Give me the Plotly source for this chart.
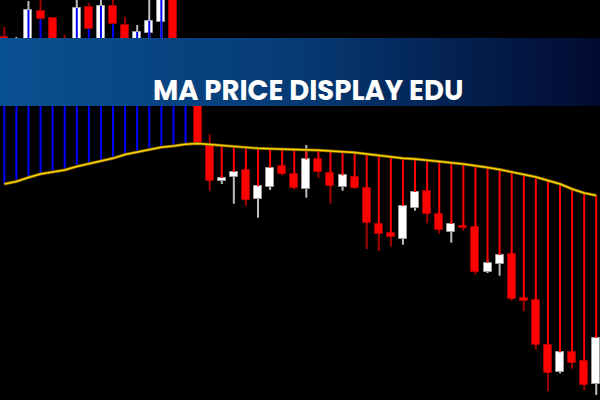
import plotly.graph_objects as go

# 50 bars, price in chart points (higher = up)
BAR_INDEX = list(range(50))

OPEN = [
    363, 310, 330, 389, 382, 355, 340, 393, 350, 394.3,
    375, 330, 367, 378.3, 405, 305, 330, 255.7, 219, 223.3,
    230, 201.3, 213.3, 234, 225.7, 211, 241, 227, 213, 223,
    212, 176.3, 167, 161.3, 192.3, 209, 185.7, 168.3, 174.3, 173,
    128.3, 136, 146, 102, 100, 55, 28, 47.7, 38.7, 16,
]
HIGH = [
    373, 363, 399, 403, 383, 365, 403, 397, 402, 403,
    383, 375, 403, 408, 408, 355, 340, 265.7, 224, 230,
    232, 216, 234, 236, 228, 255, 243, 229, 227, 225,
    214, 179, 169, 196, 210, 211, 188, 178, 177, 175,
    140, 147, 148, 104, 102, 57, 50, 50, 41, 64,
]
LOW = [
    305, 300, 315, 375, 330, 310, 325, 360, 335, 365,
    330, 320, 355, 360, 315, 300, 255, 209.3, 216, 196.3,
    194, 182.3, 210, 224.5, 210.5, 202.3, 222.3, 196.3, 209.3, 211,
    151, 149, 153.3, 155.3, 189.3, 176.7, 166.3, 157.3, 169.3, 125.5,
    127, 124.3, 99.3, 89, 50.7, 9, 26.7, 31.3, 10, 5,
]
CLOSE = [
    330, 355, 390, 380.7, 340, 325, 392, 371, 394, 375.7,
    340, 368, 379, 404, 330, 345, 256.7, 219, 222, 228,
    200, 213.7, 232.3, 225.7, 212, 240.7, 228.3, 213.7, 224.7, 212.3,
    176.7, 166.3, 163.3, 194, 208, 185.7, 170, 176, 172.3, 128.3,
    137.3, 145, 101, 99.3, 55, 27, 47.7, 37.3, 15, 62,
]
MOVING_AVERAGE = [
    216, 218.5, 222.5, 226, 228, 230, 233.5, 236, 239, 241.7,
    245.5, 247.7, 250, 252.7, 254, 255.7, 256.5, 255.5, 254.5, 253.5,
    252.7, 251.7, 251.3, 251, 250, 250, 249.7, 249, 248.3, 247.5,
    246, 244.5, 243, 241.7, 241, 240, 238.7, 237.3, 236, 234.5,
    232.5, 230.5, 228, 226, 223, 219.5, 216, 211, 207, 204.5,
]

TITLE_TEXT = "MA PRICE DISPLAY EDU"

UP_BODY = "#ffffff"
UP_EDGE = "#9c9c9c"
DOWN_BODY = "#ff0000"
DOWN_EDGE = "#a00000"


def _wick_segments(indices):
    xs, ys = [], []
    for i in indices:
        top = max(OPEN[i], CLOSE[i])
        bottom = min(OPEN[i], CLOSE[i])
        xs += [i, i, None, i, i, None]
        ys += [HIGH[i], top, None, bottom, LOW[i], None]
    return xs, ys


def _link_segments(indices):
    xs, ys = [], []
    for i in indices:
        xs += [i, i, None]
        ys += [MOVING_AVERAGE[i], CLOSE[i], None]
    return xs, ys


rising = [i for i in BAR_INDEX if CLOSE[i] >= OPEN[i]]
falling = [i for i in BAR_INDEX if CLOSE[i] < OPEN[i]]
above_ma = [i for i in BAR_INDEX if CLOSE[i] >= MOVING_AVERAGE[i]]
below_ma = [i for i in BAR_INDEX if CLOSE[i] < MOVING_AVERAGE[i]]

fig = go.Figure()

fig.add_trace(
    go.Bar(
        x=BAR_INDEX,
        y=[abs(c - o) for o, c in zip(OPEN, CLOSE)],
        base=[min(o, c) for o, c in zip(OPEN, CLOSE)],
        width=0.66,
        marker={
            "color": [UP_BODY if c >= o else DOWN_BODY for o, c in zip(OPEN, CLOSE)],
            "line": {
                "color": [UP_EDGE if c >= o else DOWN_EDGE for o, c in zip(OPEN, CLOSE)],
                "width": 1,
            },
        },
        hoverinfo="skip",
        showlegend=False,
    )
)

for indices, color in ((rising, "#bdbdbd"), (falling, "#a00000")):
    wx, wy = _wick_segments(indices)
    fig.add_trace(
        go.Scatter(x=wx, y=wy, mode="lines", line={"color": color, "width": 2},
                   hoverinfo="skip", showlegend=False)
    )

for indices, color in ((above_ma, "#0000ff"), (below_ma, "#ff0000")):
    lx, ly = _link_segments(indices)
    fig.add_trace(
        go.Scatter(x=lx, y=ly, mode="lines", line={"color": color, "width": 2},
                   hoverinfo="skip", showlegend=False)
    )

# moving average: dark rim + gold core
fig.add_trace(
    go.Scatter(x=BAR_INDEX, y=MOVING_AVERAGE, mode="lines",
               line={"color": "#7a6400", "width": 3}, hoverinfo="skip", showlegend=False)
)
fig.add_trace(
    go.Scatter(x=BAR_INDEX, y=MOVING_AVERAGE, mode="lines",
               line={"color": "#ffd000", "width": 1.4}, hoverinfo="skip", showlegend=False)
)

# title banner on an overlay axis so it sits above the candles
fig.add_trace(
    go.Scatter(
        x=[0, 1, 1, 0, 0],
        y=[0.735, 0.735, 0.905, 0.905, 0.735],
        xaxis="x2",
        yaxis="y2",
        mode="lines",
        fill="toself",
        line={"width": 0},
        fillgradient={
            "type": "horizontal",
            "colorscale": [[0, "#0a5191"], [0.5, "#063a74"], [1, "#020a30"]],
        },
        hoverinfo="skip",
        showlegend=False,
    )
)

fig.update_layout(
    width=600,
    height=400,
    margin={"l": 0, "r": 0, "t": 0, "b": 0},
    paper_bgcolor="#000000",
    plot_bgcolor="#000000",
    bargap=0,
    xaxis={"range": [-0.356, 49.31], "visible": False},
    yaxis={"range": [0, 400], "visible": False},
    xaxis2={"overlaying": "x", "range": [0, 1], "visible": False},
    yaxis2={"overlaying": "y", "range": [0, 1], "visible": False},
    annotations=[
        {
            "text": TITLE_TEXT,
            "xref": "paper",
            "yref": "paper",
            "x": 0.513,
            "y": 0.827,
            "showarrow": False,
            "font": {"family": "Poppins, Inter, sans-serif", "size": 27.5,
                     "color": "#ffffff", "weight": 700},
        }
    ],
)

# page body has an 8px default margin; drop it so the chart fills the window
fig.write_html(
    "out.html",
    config={"displayModeBar": False},
    post_script="document.body.style.margin='0';",
)
